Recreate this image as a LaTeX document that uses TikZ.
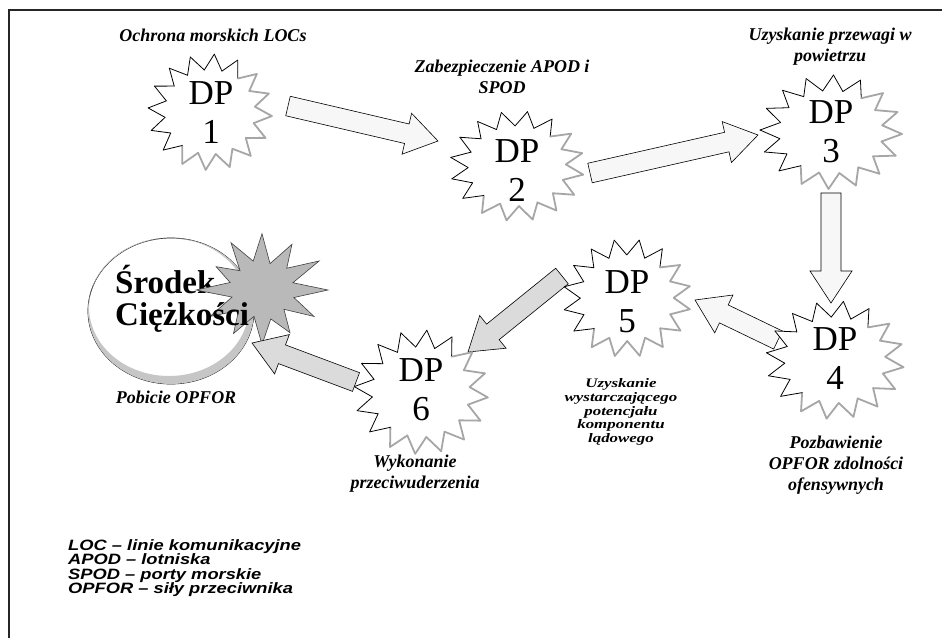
\documentclass[tikz,border=0pt]{standalone}
\usepackage{fontspec}
\setmainfont{Liberation Serif}
\newfontfamily\legendfont[FakeStretch=1.22]{Liberation Sans}
\newfontfamily\widecapfont[FakeStretch=1.3]{Liberation Serif}
\usetikzlibrary{calc}

\tikzset{
  dplabel/.style={font=\fontsize{35}{39}\selectfont, align=center, inner sep=0pt},
  caption/.style={font=\fontsize{18}{21}\selectfont\bfseries\itshape, align=center, inner sep=0pt},
  smallcaption/.style={font=\widecapfont\fontsize{13}{13.6}\selectfont\bfseries\itshape, align=center, inner sep=0pt},
  legendtext/.style={font=\legendfont\fontsize{15}{14.6}\selectfont\bfseries\itshape, align=left, inner sep=0pt, anchor=north west},
  cogtext/.style={font=\fontsize{33}{32}\selectfont\bfseries, inner sep=0pt, anchor=base west},
  starink/.style={draw=black, line width=0.8pt, line cap=round},
  starshade/.style={draw=black!35, line width=1.8pt, line cap=round},
  arrowbody/.style={draw=black, line width=0.6pt, fill=gray!6, line join=miter},
  shadedarrow/.style={arrowbody, fill=gray!28},
  frameline/.style={line width=1.6pt, black!85},
}

% jagged 16-point star: #1 centre, #2 x-radius, #3 y-radius, #4 start angle
\newcommand{\jaggedstar}[4]{%
  \begin{scope}[shift={#1}]
    \fill[white] plot[samples at={0,...,31}, variable=\k]
      ({#2*(1-0.27*mod(\k,2))*cos(#4+\k*11.25)}, {#3*(1-0.27*mod(\k,2))*sin(#4+\k*11.25)}) -- cycle;
    \foreach \k in {0,...,31} {
      \pgfmathsetmacro\aS{#4+\k*11.25}
      \pgfmathsetmacro\aE{\aS+11.25}
      \pgfmathsetmacro\rS{1-0.27*mod(\k,2)}
      \pgfmathsetmacro\rE{1-0.27*mod(\k+1,2)}
      \pgfmathsetmacro\side{mod(\aS+55.6,360)}
      \ifdim\side pt<180pt \def\segstyle{starshade}\else\def\segstyle{starink}\fi
      \draw[\segstyle] ({#2*\rS*cos(\aS)},{#3*\rS*sin(\aS)}) -- ({#2*\rE*cos(\aE)},{#3*\rE*sin(\aE)});
    }
  \end{scope}
}

% block arrow from coordinate #2 to coordinate #3, style #1
\newcommand{\blockarrow}[3][arrowbody]{%
  \coordinate (#2-head) at ($(#3)!32pt!(#2)$);
  \draw[#1] ($(#2)!10pt!90:(#3)$) -- ($(#2-head)!10pt!90:(#3)$) -- ($(#2-head)!21pt!90:(#3)$)
    -- (#3) -- ($(#2-head)!21pt!-90:(#3)$) -- ($(#2-head)!10pt!-90:(#3)$)
    -- ($(#2)!10pt!-90:(#3)$) -- cycle;
}

\begin{document}
\begin{tikzpicture}[x=1pt, y=-1pt]
  \useasboundingbox (0,0) rectangle (942,638);
  \fill[white] (0,0) rectangle (942,638);

  % frame (open to the right and bottom)
  \draw[frameline] (9,638) -- (9,10) -- (942,10);

  % arrow end points
  \coordinate (a1s) at (288,106);  \coordinate (a1e) at (438,141);
  \coordinate (a2s) at (590,173);  \coordinate (a2e) at (758,135);
  \coordinate (a3s) at (831,193);  \coordinate (a3e) at (831,303);
  \coordinate (a4s) at (778,340);  \coordinate (a4e) at (695,300);
  \coordinate (a5s) at (562,276);  \coordinate (a5e) at (468,352);
  \coordinate (a6s) at (356,382);  \coordinate (a6e) at (252,343);

  % arrows
  \blockarrow{a1s}{a1e}
  \blockarrow{a2s}{a2e}
  \blockarrow{a3s}{a3e}
  \blockarrow{a4s}{a4e}
  \blockarrow[shadedarrow]{a5s}{a5e}

  % decisive points
  \jaggedstar{(210,112)}{62}{58}{4}
  \jaggedstar{(517,166)}{67}{55}{9}
  \jaggedstar{(831,132)}{71}{57}{2}
  \jaggedstar{(835,360)}{69}{59}{7}
  \jaggedstar{(627,298)}{64}{59}{11}
  \jaggedstar{(421,392)}{67}{62}{5}

  \node[dplabel] (dp1) at (211,113) {DP\\1};
  \node[dplabel] (dp2) at (517,171) {DP\\2};
  \node[dplabel] (dp3) at (831,132) {DP\\3};
  \node[dplabel] (dp4) at (835,359) {DP\\4};
  \node[dplabel] (dp5) at (627,302) {DP\\5};
  \node[dplabel] (dp6) at (421,390) {DP\\6};

  % centre of gravity: ring with shaded crescent
  \draw[black, line width=0.7pt] (171,311) ellipse [x radius=83, y radius=73];
  \fill[gray!45, even odd rule] (171,311) ellipse [x radius=83, y radius=73]
    (169,307) ellipse [x radius=80, y radius=69];
  \node[cogtext] (srodek) at (115,293) {Środek};
  \begin{scope}[shift={(262,290)}, yscale=0.88]
    \filldraw[fill=gray!55, draw=black!75, line width=0.6pt]
      (0:66) -- (15:33) -- (30:60) -- (45:31) -- (60:56) -- (75:34) -- (90:62) -- (105:31)
      -- (120:57) -- (135:33) -- (150:60) -- (165:31) -- (180:66) -- (195:33) -- (210:53)
      -- (225:31) -- (240:62) -- (255:34) -- (270:64) -- (285:31) -- (300:60) -- (315:35)
      -- (330:66) -- (345:32) -- cycle;
  \end{scope}
  \coordinate (cog) at (262,290);
  \node[cogtext] (ciezkosci) at (115,325) {Ciężkości};
  \blockarrow[shadedarrow]{a6s}{a6e}

  % captions
  \node[caption] (c1) at (213,35) {Ochrona morskich LOCs};
  \node[caption] (c2) at (502,77) {Zabezpieczenie APOD i\\SPOD};
  \node[caption] (c3) at (830,47) {Uzyskanie przewagi w\\powietrzu};
  \node[caption] (c4) at (836,465) {Pozbawienie\\OPFOR zdolności\\ofensywnych};
  \node[smallcaption] (c5) at (621,412) {Uzyskanie\\wystarczającego\\potencjału\\komponentu\\lądowego};
  \node[caption] (c6) at (415,474) {Wykonanie\\przeciwuderzenia};
  \node[caption] (c7) at (176,397) {Pobicie OPFOR};

  % legend
  \node[legendtext] (legend) at (68,539) {LOC – linie komunikacyjne\\APOD – lotniska\\SPOD – porty morskie\\OPFOR – siły przeciwnika};
\end{tikzpicture}
\end{document}
